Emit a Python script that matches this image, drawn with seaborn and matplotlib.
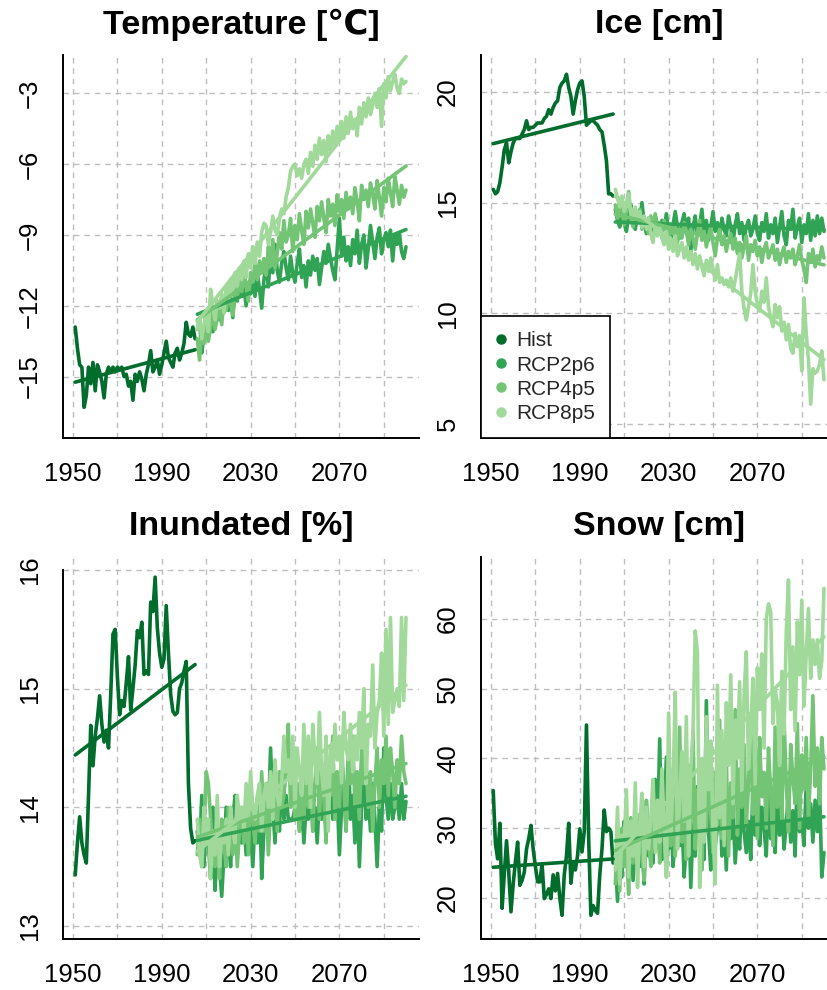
import matplotlib
matplotlib.use("Agg")
import matplotlib.pyplot as plt
from matplotlib.lines import Line2D
import pandas as pd
import seaborn as sns

# ---- data ------------------------------------------------------------------
years_hist = list(range(1951, 2006))
years_rcp = list(range(2006, 2101))
scenarios = ["Hist", "RCP2p6", "RCP4p5", "RCP8p5"]
scenario_colors = ["#006d2c", "#31a354", "#74c476", "#a1d99b"]

# Temperature [degC]
temp_hist = [-12.9, -13.8, -14.5, -14.6, -16.3, -15.8, -14.6, -15.3, -14.4, -15.6,
             -14.5, -14.8, -15.2, -15.9, -14.9, -14.6, -14.8, -14.6, -14.8, -14.6,
             -14.7, -14.6, -15.0, -14.9, -15.4, -15.2, -16.0, -14.9, -15.2, -14.8,
             -15.1, -15.6, -14.9, -14.5, -13.9, -14.8, -14.6, -14.3, -14.9, -14.5,
             -14.0, -13.5, -14.2, -14.4, -14.6, -14.0, -13.8, -14.3, -14.0, -13.6,
             -12.7, -13.2, -13.3, -12.9, -13.4]
temp_rcp26 = [-13.0, -12.6, -14.0, -13.2, -12.5, -12.9, -12.2, -13.1, -12.4, -11.8,
              -12.6, -11.9, -12.3, -11.4, -12.2, -11.7, -12.5, -11.3, -11.8, -10.9,
              -11.6, -11.2, -12.0, -11.1, -11.5, -10.8, -11.6, -10.6, -11.3, -12.1,
              -10.9, -10.3, -11.2, -9.8, -10.6, -9.4, -10.5, -11.0, -10.2, -9.7,
              -10.4, -10.9, -9.9, -10.6, -11.0, -10.2, -9.6, -10.8, -10.3, -11.2,
              -10.1, -10.7, -9.9, -10.5, -10.0, -11.1, -10.4, -9.7, -10.2, -9.4,
              -10.0, -10.5, -10.9, -9.6, -8.3, -9.9, -9.1, -10.1, -9.5, -10.3,
              -9.2, -9.8, -8.8, -10.2, -9.4, -9.0, -10.4, -9.6, -8.6, -9.3,
              -10.0, -9.1, -8.7, -9.8, -9.2, -8.9, -9.5, -8.8, -10.1, -9.0,
              -9.4, -8.9, -9.7, -10.0, -9.5]
temp_rcp45 = [-13.4, -14.3, -13.0, -13.6, -12.8, -13.5, -12.9, -12.3, -13.0, -12.5,
              -12.0, -12.8, -11.7, -12.2, -11.5, -11.9, -12.4, -11.2, -11.7, -10.8,
              -11.4, -10.5, -11.2, -11.8, -10.6, -11.0, -10.2, -10.9, -10.1, -10.6,
              -10.0, -10.7, -9.5, -10.2, -9.2, -10.4, -9.8, -8.9, -9.6, -8.4,
              -9.3, -9.0, -8.3, -9.7, -8.6, -9.2, -8.1, -8.8, -9.4, -8.0,
              -8.7, -7.9, -8.5, -9.1, -7.8, -8.4, -7.6, -8.3, -8.9, -7.5,
              -8.2, -7.7, -8.6, -7.3, -8.0, -7.5, -8.3, -7.2, -7.9, -7.4,
              -8.1, -7.0, -7.6, -8.4, -6.9, -7.5, -7.1, -7.8, -6.8, -7.3,
              -7.9, -6.7, -7.4, -8.2, -7.0, -7.6, -6.6, -7.2, -7.8, -6.5,
              -7.1, -7.7, -6.9, -7.4, -7.1]
temp_rcp85 = [-13.0, -12.5, -13.4, -12.8, -12.2, -13.1, -11.3, -12.0, -12.6, -11.8,
              -12.1, -11.5, -12.3, -11.2, -11.7, -10.9, -11.4, -10.6, -11.2, -10.4,
              -10.9, -10.1, -10.8, -9.8, -10.4, -9.5, -10.2, -9.3, -9.9, -8.9,
              -8.5, -8.6, -9.4, -8.9, -8.2, -8.8, -9.0, -8.3, -7.9, -8.1,
              -7.4, -7.0, -6.3, -6.1, -6.0, -6.5, -6.2, -6.6, -6.0, -5.8,
              -6.4, -5.5, -6.1, -5.2, -5.8, -4.9, -5.6, -5.0, -5.9, -4.8,
              -5.4, -4.6, -5.2, -4.4, -5.0, -4.2, -4.9, -4.0, -4.7, -3.8,
              -4.5, -4.1, -4.8, -3.6, -4.3, -3.4, -4.0, -3.2, -3.9, -3.5,
              -3.0, -3.6, -2.8, -4.4, -2.6, -3.2, -2.3, -2.9, -2.5, -2.2,
              -2.8, -3.0, -2.4, -2.6, -2.5]

# Ice [cm]
ice_hist = [15.6, 15.4, 15.5, 15.9, 16.6, 17.4, 17.7, 16.8, 17.3, 17.7,
            17.9, 17.9, 17.9, 18.1, 18.3, 18.7, 18.3, 18.4, 18.4, 18.5,
            18.6, 18.6, 18.6, 18.8, 18.9, 19.2, 19.0, 19.3, 19.5, 19.6,
            20.2, 20.4, 20.5, 20.8, 20.2, 19.8, 19.0, 19.6, 20.1, 20.4,
            20.5, 19.8, 18.5, 18.6, 18.7, 18.7, 18.6, 18.5, 18.3, 18.2,
            17.6, 16.9, 15.4, 15.4, 15.3]
ice_rcp26 = [14.7, 14.2, 13.9, 14.6, 14.1, 13.7, 14.4, 14.9, 14.0, 13.8,
             14.5, 14.2, 15.0, 14.1, 13.6, 14.3, 13.9, 13.5, 14.4, 14.0,
             13.6, 14.2, 13.8, 14.5, 13.7, 13.2, 14.0, 14.6, 13.9, 13.4,
             14.1, 14.5, 13.6, 14.3, 12.8, 13.9, 14.4, 13.5, 14.0, 14.7,
             13.6, 14.2, 13.3, 13.9, 14.6, 13.7, 14.1, 13.4, 14.3, 13.8,
             13.5, 14.4, 13.9, 13.2, 14.0, 14.5, 13.6, 14.1, 13.3, 13.9,
             14.2, 13.5, 13.8, 14.4, 13.6, 13.3, 14.1, 13.7, 14.5, 13.4,
             14.0, 13.6, 14.3, 13.2, 13.9, 14.6, 13.5, 13.1, 14.2, 13.8,
             14.7, 13.4, 13.9, 14.3, 13.2, 14.0, 13.6, 14.5, 13.3, 14.2,
             13.5, 14.4, 13.6, 14.3, 13.7]
ice_rcp45 = [14.9, 14.3, 15.2, 14.6, 14.0, 14.8, 15.5, 14.4, 13.9, 14.6,
             14.2, 14.7, 13.8, 14.3, 14.0, 13.6, 14.4, 13.9, 14.5, 13.7,
             14.1, 13.5, 14.2, 13.8, 13.3, 14.0, 13.6, 13.9, 13.2, 13.8,
             13.4, 14.1, 13.7, 13.1, 13.8, 13.4, 12.9, 13.6, 14.2, 13.3,
             13.7, 13.0, 13.5, 13.9, 13.2, 12.6, 13.4, 13.8, 13.1, 13.5,
             12.8, 13.3, 13.6, 12.9, 13.4, 12.7, 13.2, 12.5, 13.0, 13.5,
             12.4, 13.1, 12.8, 13.3, 12.6, 13.0, 12.3, 12.9, 13.2, 12.5,
             12.8, 13.1, 12.4, 12.9, 12.2, 12.7, 13.0, 12.3, 12.8, 12.5,
             12.9, 12.2, 12.6, 13.1, 12.4, 12.0, 11.4, 12.7, 12.3, 12.9,
             12.1, 12.6, 12.4, 13.0, 12.5]
ice_rcp85 = [15.6, 15.2, 14.8, 15.3, 14.6, 14.9, 15.4, 14.5, 14.2, 14.8,
             14.1, 14.6, 13.9, 14.4, 13.8, 14.3, 13.6, 13.2, 14.0, 13.5,
             13.9, 13.4, 13.1, 13.7, 12.9, 13.4, 12.8, 13.5, 12.6, 12.9,
             13.2, 12.5, 13.0, 12.4, 12.8, 12.2, 12.7, 12.0, 12.6, 12.1,
             11.7, 12.4, 11.9, 12.5, 12.0, 11.5, 12.2, 11.4, 11.6, 11.3,
             11.5, 11.2, 11.6, 11.0, 11.5, 12.1, 12.7, 11.0, 10.2, 9.7,
             10.3, 10.9, 12.2, 11.0, 10.4, 10.1, 11.0, 10.5, 11.6, 10.3,
             9.8, 9.4, 10.4, 9.8, 10.3, 9.2, 9.6, 8.8, 9.5, 8.4,
             8.2, 9.1, 8.5, 9.0, 7.4, 10.7, 9.1, 7.9, 5.9, 7.5,
             7.3, 7.4, 7.7, 8.3, 7.0]

# Inundated [%]
inund_hist = [13.43, 13.70, 13.92, 13.70, 13.60, 13.53, 14.10, 14.69, 14.35, 14.60,
              14.75, 14.94, 14.70, 14.55, 14.65, 14.50, 14.95, 15.46, 15.50, 15.10,
              14.78, 14.90, 14.85, 15.05, 15.27, 14.82, 15.00, 15.20, 15.49, 15.43,
              15.56, 15.12, 15.15, 15.12, 15.73, 15.65, 15.94, 15.51, 15.30, 15.18,
              15.25, 15.70, 15.30, 14.95, 14.81, 14.78, 14.80, 15.00, 15.05, 15.15,
              15.23, 14.20, 13.82, 13.70, 13.72]
inund_rcp26 = [13.8, 13.6, 14.1, 13.5, 13.9, 13.7, 13.4, 14.0, 13.3, 13.7,
               13.5, 13.25, 13.6, 14.0, 13.7, 13.5, 13.9, 14.1, 13.6, 13.8,
               13.7, 13.9, 13.6, 14.0, 13.8, 13.5, 13.9, 13.7, 14.1, 13.4,
               13.8, 14.2, 13.9, 14.5, 14.0, 13.7, 14.1, 13.8, 14.3, 13.9,
               14.1, 13.9, 13.9, 13.9, 14.0, 14.2, 13.8, 14.1, 13.7, 14.0,
               13.9, 14.3, 13.8, 14.0, 13.7, 14.1, 13.9, 14.2, 13.8, 14.0,
               14.3, 13.9, 14.0, 14.1, 13.6, 14.0, 14.2, 13.8, 14.5, 13.9,
               14.1, 13.7, 14.2, 13.5, 14.0, 14.4, 13.9, 14.1, 13.8, 14.2,
               13.9, 13.5, 14.0, 13.8, 14.5, 14.1, 13.9, 14.2, 13.9, 14.0,
               14.1, 13.9, 14.2, 13.9, 14.05]
inund_rcp45 = [13.6, 13.9, 13.5, 13.8, 14.3, 14.2, 13.9, 13.6, 13.5, 13.7,
               13.4, 13.9, 13.7, 13.5, 14.0, 13.8, 13.6, 13.9, 13.5, 13.8,
               14.0, 13.7, 14.1, 13.6, 14.2, 13.9, 13.7, 14.0, 13.8, 14.3,
               13.8, 14.1, 13.6, 14.0, 13.9, 14.2, 13.8, 14.3, 14.0, 14.1,
               14.3, 14.7, 14.0, 14.4, 13.9, 14.2, 13.8, 14.1, 13.9, 14.3,
               14.0, 14.4, 13.8, 14.2, 14.5, 13.9, 14.3, 14.1, 13.7, 14.4,
               14.1, 14.6, 13.9, 14.3, 14.0, 14.5, 14.2, 13.8, 14.4, 14.2,
               14.6, 14.0, 14.3, 13.9, 14.5, 14.2, 14.4, 14.0, 14.3, 13.8,
               14.2, 14.5, 14.0, 14.4, 14.2, 14.6, 14.1, 14.5, 14.3, 14.0,
               14.4, 14.2, 14.6, 14.3, 14.2]
inund_rcp85 = [13.9, 13.6, 13.5, 14.0, 13.7, 13.9, 13.4, 13.8, 13.6, 14.1,
               13.5, 13.8, 13.7, 13.9, 13.6, 14.0, 13.8, 13.7, 14.1, 13.9,
               14.0, 13.8, 14.2, 13.9, 14.3, 14.0, 13.9, 14.1, 14.2, 13.8,
               14.1, 14.2, 14.0, 14.3, 13.9, 14.4, 14.1, 14.0, 14.2, 14.6,
               14.3, 14.4, 14.2, 14.6, 14.0, 14.5, 14.3, 14.1, 14.7, 14.2,
               14.6, 14.0, 14.7, 14.4, 14.2, 14.8, 14.3, 14.1, 14.6, 13.8,
               14.5, 14.3, 14.7, 14.4, 14.6, 14.2, 14.8, 14.5, 14.4, 14.7,
               14.3, 14.6, 14.4, 14.8, 14.5, 15.0, 14.2, 14.7, 14.6, 15.2,
               14.5, 14.8, 14.9, 15.3, 14.6, 15.5, 14.7, 15.6, 14.8, 14.9,
               15.0, 14.85, 15.6, 14.9, 15.6]

# Snow [cm]
snow_hist = [35.4, 27.8, 25.6, 30.7, 18.5, 23.5, 28.2, 23.7, 18.0, 22.0,
             25.2, 28.0, 21.8, 22.5, 23.7, 27.0, 28.5, 30.4, 27.0, 24.5,
             22.3, 22.3, 24.9, 19.9, 20.5, 21.3, 19.9, 23.3, 21.0, 23.5,
             20.0, 17.5, 23.3, 26.0, 30.7, 22.1, 25.2, 24.0, 26.1, 29.9,
             26.6, 29.5, 44.8, 28.5, 17.5, 18.9, 18.2, 17.8, 23.3, 27.0,
             32.6, 29.5, 30.0, 29.5, 25.0]
snow_rcp26 = [26.0, 19.5, 29.5, 23.0, 31.0, 26.5, 24.0, 30.0, 22.5, 28.5,
              31.0, 24.5, 28.5, 22.0, 33.5, 26.0, 30.0, 25.0, 37.0, 29.0,
              42.8, 25.5, 31.0, 40.2, 27.0, 33.5, 24.5, 29.0, 35.5, 27.5,
              31.5, 23.0, 28.0, 34.0, 21.5, 30.5, 26.0, 36.0, 28.5, 32.0,
              25.5, 48.3, 29.5, 24.0, 33.0, 27.5, 30.0, 36.5, 26.0, 31.5,
              24.0, 35.0, 28.5, 32.5, 25.0, 30.0, 27.0, 34.5, 29.5, 26.5,
              31.0, 25.5, 36.0, 29.0, 41.0, 27.5, 33.0, 30.0, 26.0, 35.5,
              28.5, 31.5, 26.5, 37.0, 29.0, 33.5, 27.0, 30.5, 35.0, 28.0,
              32.5, 26.0, 38.0, 29.5, 31.0, 27.5, 36.5, 30.0, 33.5, 28.0,
              34.0, 29.5, 36.0, 23.0, 26.5]
snow_rcp45 = [22.0, 28.5, 21.0, 30.0, 24.5, 27.0, 20.5, 31.5, 25.0, 29.0,
              23.5, 32.0, 26.5, 22.5, 34.0, 28.0, 24.5, 35.5, 27.0, 31.0,
              25.0, 36.0, 29.5, 23.0, 33.0, 27.5, 38.5, 26.0, 32.0, 44.5,
              28.0, 33.5, 25.5, 39.0, 30.0, 44.0, 27.0, 35.5, 31.0, 24.0,
              37.5, 29.5, 42.0, 32.0, 26.5, 38.0, 30.5, 45.5, 28.5, 34.0,
              40.0, 26.0, 36.5, 31.5, 47.0, 29.0, 38.5, 33.0, 42.0, 30.5,
              36.0, 46.5, 32.0, 39.5, 28.5, 43.0, 34.5, 38.0, 30.0, 41.5,
              35.0, 27.5, 44.5, 33.0, 39.0, 31.0, 46.0, 36.5, 29.5, 42.0,
              37.0, 33.5, 45.0, 30.0, 40.5, 35.5, 43.0, 31.5, 38.5, 49.0,
              36.0, 41.5, 33.5, 43.0, 38.5]
snow_rcp85 = [24.0, 33.0, 22.0, 29.0, 27.5, 35.5, 23.0, 31.0, 26.0, 36.5,
              21.5, 30.5, 35.0, 24.5, 33.0, 27.0, 31.5, 37.0, 26.5, 34.0,
              28.0, 38.5, 30.0, 23.0, 46.5, 29.5, 36.0, 49.5, 27.0, 34.5,
              41.0, 31.0, 46.0, 26.0, 38.5, 44.0, 58.3, 55.3, 21.5, 40.0,
              28.0, 46.0, 35.5, 42.5, 30.0, 22.0, 50.5, 31.5, 44.0, 27.5,
              48.0, 39.0, 52.0, 33.5, 45.5, 40.0, 51.0, 35.0, 49.0, 55.3,
              38.5, 44.0, 51.5, 36.0, 53.0, 47.0, 55.0, 41.5, 60.0, 62.2,
              61.0, 45.0, 50.0, 48.0, 39.0, 52.5, 43.5, 58.0, 65.6, 47.0,
              56.0, 44.0, 59.6, 52.0, 62.7, 47.5, 55.0, 61.5, 51.5, 57.0,
              53.5, 57.0, 51.5, 54.0, 64.4]

x_ticks = [1950, 1970, 1990, 2010, 2030, 2050, 2070, 2090]
x_tick_labels = ["1950", "", "1990", "", "2030", "", "2070", ""]

panels = [
    # title, series, y ticks, y limits, (left, top, bottom) in pixels
    ("Temperature [\u2103]", [temp_hist, temp_rcp26, temp_rcp45, temp_rcp85],
     [-15, -12, -9, -6, -3], (-17.6, -1.38), (63, 55, 438)),
    ("Ice [cm]", [ice_hist, ice_rcp26, ice_rcp45, ice_rcp85],
     [5, 10, 15, 20], (4.37, 21.67), (481, 55, 438)),
    ("Inundated [%]", [inund_hist, inund_rcp26, inund_rcp45, inund_rcp85],
     [13, 14, 15, 16], (12.89, 16.11), (63, 557, 939)),
    ("Snow [cm]", [snow_hist, snow_rcp26, snow_rcp45, snow_rcp85],
     [20, 30, 40, 50, 60], (14.1, 68.9), (481, 557, 939)),
]

# ---- drawing ----------------------------------------------------------------
sns.set_theme(style="white")
plt.rcParams["font.family"] = ["Liberation Sans", "DejaVu Sans"]
plt.rcParams["axes.unicode_minus"] = True

W, H = 828, 990
fig = plt.figure(figsize=(W / 100, H / 100), dpi=100)
palette = dict(zip(scenarios, scenario_colors))
x_lim = (1945.5, 2106.0)
px_per_year = 2.22
line_w = 2.6

for idx, (title, series, y_ticks, y_lim, (left, top, bottom)) in enumerate(panels):
    width = (x_lim[1] - x_lim[0]) * px_per_year
    ax = fig.add_axes([left / W, 1 - bottom / H, width / W, (bottom - top) / H])
    ax.patch.set_alpha(0)

    frames = []
    for name, values in zip(scenarios, series):
        yrs = years_hist if name == "Hist" else years_rcp
        frames.append(pd.DataFrame({"year": yrs, "value": values, "scenario": name}))
    df = pd.concat(frames, ignore_index=True)

    sns.lineplot(data=df, x="year", y="value", hue="scenario", palette=palette,
                 estimator=None, lw=line_w, legend=False, ax=ax)
    for name in scenarios:
        sub = df[df["scenario"] == name]
        sns.regplot(x=sub["year"], y=sub["value"], scatter=False, ci=None,
                    color=palette[name], line_kws={"lw": line_w}, ax=ax)

    ax.set_xlim(*x_lim)
    ax.set_ylim(*y_lim)
    ax.set_xlabel("")
    ax.set_ylabel("")
    ax.set_xticks(x_ticks)
    ax.set_xticklabels(x_tick_labels)
    ax.set_yticks(y_ticks)

    ax.set_axisbelow(True)
    ax.grid(True, color="#bebebe", lw=1.0, ls=(0, (4, 3.5)))
    for side in ["top", "right"]:
        ax.spines[side].set_visible(False)
    for side in ["left", "bottom"]:
        ax.spines[side].set_linewidth(1.4)
        ax.spines[side].set_color("black")
    if idx == 2:
        ax.spines["left"].set_bounds(y_lim[0], 16)

    ax.tick_params(axis="both", direction="out", length=12.5, width=1.4,
                   color="black", labelsize=18.5, labelcolor="black")
    ax.tick_params(axis="x", pad=5)
    ax.tick_params(axis="y", pad=2.5, labelrotation=90)
    for lbl in ax.get_yticklabels():
        lbl.set_va("center")

    cx = (left + width / 2) / W
    ty = 25 if top < 200 else 527
    fig.text(cx, 1 - ty / H, title, ha="center", va="center",
             fontsize=24.5, fontweight="bold", color="black")

    if idx == 1:
        handles = [Line2D([], [], marker="o", ls="none", color=c, markersize=6.5)
                   for c in scenario_colors]
        leg = ax.legend(handles, scenarios, loc="lower left", bbox_to_anchor=(0, 0),
                        borderaxespad=0, frameon=True, fancybox=False,
                        edgecolor="black", framealpha=1, fontsize=15,
                        handlelength=0.5, handletextpad=0.45, labelspacing=0.25,
                        borderpad=0.72)
        leg.get_frame().set_linewidth(1.2)

fig.savefig("out.png", dpi=100)
